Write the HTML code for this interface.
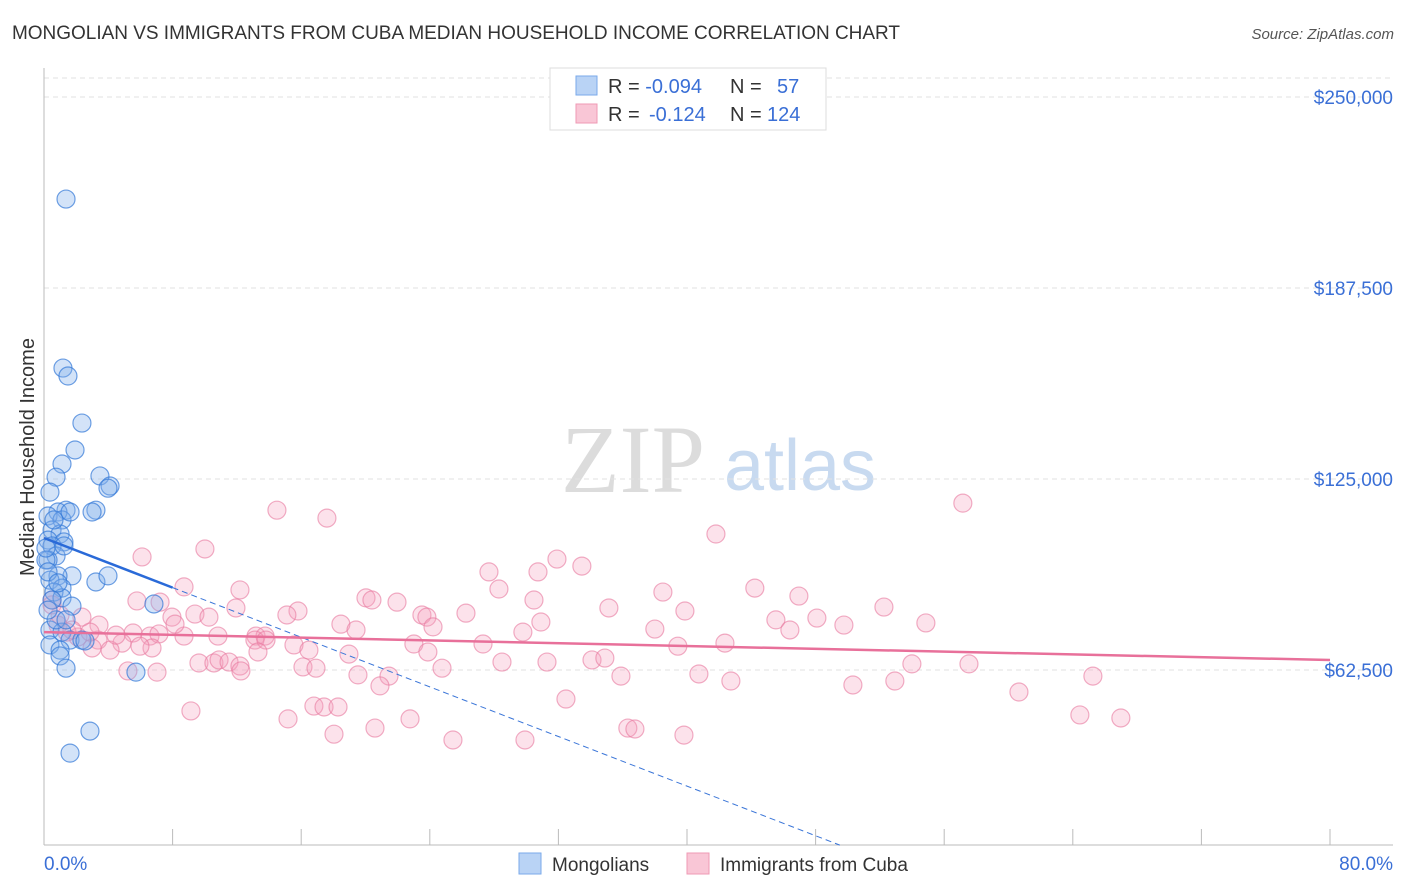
<!DOCTYPE html>
<html><head><meta charset="utf-8"><style>
body{margin:0;background:#fff;font-family:"Liberation Sans",sans-serif;}
svg{display:block}
</style></head><body>
<svg width="1406" height="892" viewBox="0 0 1406 892" xmlns="http://www.w3.org/2000/svg">
<text x="12" y="39" font-size="19" fill="#333" textLength="888">MONGOLIAN VS IMMIGRANTS FROM CUBA MEDIAN HOUSEHOLD INCOME CORRELATION CHART</text>
<text x="1394" y="39" font-size="15" fill="#555" font-style="italic" text-anchor="end">Source: ZipAtlas.com</text>
<g>
<text x="633" y="492" font-size="96" fill="#dcdcdc" font-family="Liberation Serif,serif" text-anchor="middle">ZIP</text>
<text x="800" y="490" font-size="72" fill="#c8daf0" text-anchor="middle">atlas</text>
</g>
<g id="grid"></g>
<g id="axes"></g>
<g id="pts"></g>
<g id="trend"></g>
<text transform="translate(34,457) rotate(-90)" font-size="20" fill="#333" text-anchor="middle">Median Household Income</text>
<g>
<rect x="550" y="68" width="276" height="62" fill="#fff" stroke="#ddd"/>
<rect x="576" y="76" width="21" height="19" fill="#b9d3f5" stroke="#7aaaea"/>
<rect x="576" y="104" width="21" height="19" fill="#f9c6d6" stroke="#ef9ab4"/>
<text x="608" y="93" font-size="20" fill="#333">R = <tspan fill="#3a6fd6">-0.094</tspan></text>
<text x="730" y="93" font-size="20" fill="#333">N = </text><text x="777" y="93" font-size="20" fill="#3a6fd6">57</text>
<text x="608" y="121" font-size="20" fill="#333">R = </text><text x="649" y="121" font-size="20" fill="#3a6fd6">-0.124</text>
<text x="730" y="121" font-size="20" fill="#333">N = </text><text x="767" y="121" font-size="20" fill="#3a6fd6">124</text>
</g>
<g>
<rect x="519" y="853" width="22" height="21" fill="#b9d3f5" stroke="#7aaaea"/>
<text x="552" y="871" font-size="19" fill="#333">Mongolians</text>
<rect x="687" y="853" width="22" height="21" fill="#f9c6d6" stroke="#ef9ab4"/>
<text x="720" y="871" font-size="19" fill="#333">Immigrants from Cuba</text>
</g>
</svg>
<script>
const yTicks=[250000,187500,125000,62500];
const yTickLabels=["$250,000","$187,500","$125,000","$62,500"];
const xTickVals=[0,8,16,24,32,40,48,56,64,72,80];
const xEndLabels=["0.0%","80.0%"];
const blueX=[1.37,1.18,1.49,2.36,1.93,1.12,0.75,3.48,4.11,3.98,0.37,1.37,3.23,2.99,0.87,0.25,1.12,0.50,1.00,0.25,1.24,0.50,0.75,0.25,1.74,0.87,3.23,3.98,0.37,1.12,0.62,1.12,1.74,6.84,0.37,1.12,1.62,2.36,0.37,1.00,1.00,1.37,5.72,2.86,1.62,0.12,0.25,0.50,0.75,0.25,0.62,1.62,1.24,0.12,0.87,2.55,1.37];
const blueY=[216.6,161.3,158.7,143.3,134.5,129.9,125.6,126.0,122.7,122.0,120.7,114.8,114.8,114.2,114.2,112.9,111.6,108.3,107.0,105.0,104.4,103.1,99.8,98.5,93.3,93.3,91.3,93.3,91.9,89.3,88.0,86.1,83.4,84.1,75.6,74.9,72.3,72.3,70.7,69.0,67.1,63.1,61.8,42.5,35.3,98.5,94.6,85.4,78.9,82.1,111.6,114.2,103.1,102.4,91.0,72.0,78.9];
const pinkX=[14.49,17.60,57.16,41.80,10.01,6.10,31.91,33.46,27.68,30.73,8.71,12.19,28.30,44.22,38.50,46.96,5.78,20.03,20.40,21.96,7.22,0.50,11.94,15.80,35.14,39.87,52.25,26.25,23.51,23.82,30.48,15.11,9.39,7.96,10.26,2.36,48.08,45.53,49.76,54.86,30.91,18.47,19.41,24.20,29.79,38.00,46.40,0.87,3.42,5.54,6.59,7.15,8.71,10.82,13.19,13.75,13.12,15.55,16.48,23.01,27.31,39.43,42.36,3.36,4.85,2.11,1.43,2.99,4.11,6.72,18.97,23.88,13.81,13.31,9.64,10.57,10.89,11.51,12.19,16.11,16.92,19.53,21.46,24.76,28.49,31.29,34.09,34.89,35.89,40.74,42.73,50.32,52.93,53.99,57.54,60.65,65.25,5.22,12.25,7.03,20.90,32.47,9.14,15.18,16.79,17.42,18.29,22.77,20.59,18.04,25.44,29.92,36.32,36.76,39.81,64.44,66.99,0.50,1.00,1.74,2.86,4.48,5.97,8.15];
const pinkY=[114.8,112.2,117.1,107.0,102.1,99.5,98.8,96.5,94.6,94.6,89.7,88.7,89.0,89.3,88.0,86.7,85.1,86.1,85.4,84.7,84.7,85.4,82.8,81.8,82.8,81.8,83.1,81.1,80.5,79.8,85.4,80.5,80.8,79.8,79.8,79.8,79.5,78.9,77.2,77.9,78.2,77.5,75.6,76.6,74.9,75.9,75.6,77.2,77.2,74.6,73.6,74.3,73.6,73.6,73.6,73.6,72.3,70.7,69.0,71.0,71.0,70.3,71.3,72.3,71.3,73.3,74.9,69.7,69.0,69.7,67.7,68.4,72.3,68.4,64.8,64.8,65.8,65.1,63.8,63.5,63.1,60.9,60.5,63.1,65.1,65.1,65.8,66.4,60.5,61.2,58.9,57.6,58.9,64.5,64.5,55.3,60.5,62.2,62.2,61.8,57.3,53.0,49.1,46.5,50.7,50.4,50.4,46.5,43.5,41.5,39.6,39.6,43.5,43.2,41.2,47.8,46.8,83.8,80.5,75.6,74.9,73.9,70.3,77.5];
const blueTrend=[105.7,-2.03]; // intercept (k$), slope per %
const pinkTrend=[74.9,-0.114];

const NS="http://www.w3.org/2000/svg";
const X=v=>44+v*(1286/80);
const Y=v=>861-v*191/62.5;
function mk(tag,attrs,parent){const e=document.createElementNS(NS,tag);for(const k in attrs)e.setAttribute(k,attrs[k]);parent.appendChild(e);return e;}
const grid=document.getElementById('grid'),axes=document.getElementById('axes'),pts=document.getElementById('pts'),trend=document.getElementById('trend');
let gl=mk('line',{x1:44,x2:1393,y1:78,y2:78,stroke:'#e2e2e2','stroke-dasharray':'5,4'},grid);


yTicks.forEach((t,i)=>{
 const y=Y(t/1000);
 const l=mk('line',{x1:44,x2:1393,y1:y,y2:y,stroke:'#e2e2e2','stroke-dasharray':'5,4'},grid);
 
 
 const tx=mk('text',{x:1393,y:y+7,'font-size':19,fill:'#3a6fd6','text-anchor':'end'},axes);
 tx.textContent=yTickLabels[i];
 
 
});
let a=mk('line',{x1:44,x2:44,y1:68,y2:845,stroke:'#bbb'},axes);


a=mk('line',{x1:44,x2:1393,y1:845,y2:845,stroke:'#bbb'},axes);


xTickVals.forEach(v=>{
 const t=mk('line',{x1:X(v),x2:X(v),y1:829,y2:845,stroke:'#bbb'},axes);
 
 
});
let t0=mk('text',{x:44,y:870,'font-size':19,fill:'#3a6fd6'},axes);t0.textContent=xEndLabels[0];


let t1=mk('text',{x:1393,y:870,'font-size':19,fill:'#3a6fd6','text-anchor':'end'},axes);t1.textContent=xEndLabels[1];


pinkX.forEach((x,i)=>{
 const c=mk('circle',{cx:X(x),cy:Y(pinkY[i]),r:9,fill:'rgba(244,160,188,0.3)',stroke:'rgba(232,120,158,0.6)','stroke-width':1.2},pts);
 
 
});
blueX.forEach((x,i)=>{
 const c=mk('circle',{cx:X(x),cy:Y(blueY[i]),r:9,fill:'rgba(130,175,235,0.35)',stroke:'rgba(50,120,215,0.7)','stroke-width':1.2},pts);
 
 
});
const bAt=x=>blueTrend[0]+blueTrend[1]*x;
const pAt=x=>pinkTrend[0]+pinkTrend[1]*x;
const xZero=(5.2-blueTrend[0])/blueTrend[1];
let l=mk('line',{x1:X(8),y1:Y(bAt(8)),x2:X(xZero),y2:Y(bAt(xZero)),stroke:'#3a75d8','stroke-width':1,'stroke-dasharray':'6,4'},trend);


l=mk('line',{x1:X(0),y1:Y(bAt(0)),x2:X(8),y2:Y(bAt(8)),stroke:'#2a6ad8','stroke-width':2.5},trend);


l=mk('line',{x1:X(0),y1:Y(pAt(0)),x2:X(80),y2:Y(pAt(80)),stroke:'#e8709a','stroke-width':2.5},trend);


</script>
</body></html>
